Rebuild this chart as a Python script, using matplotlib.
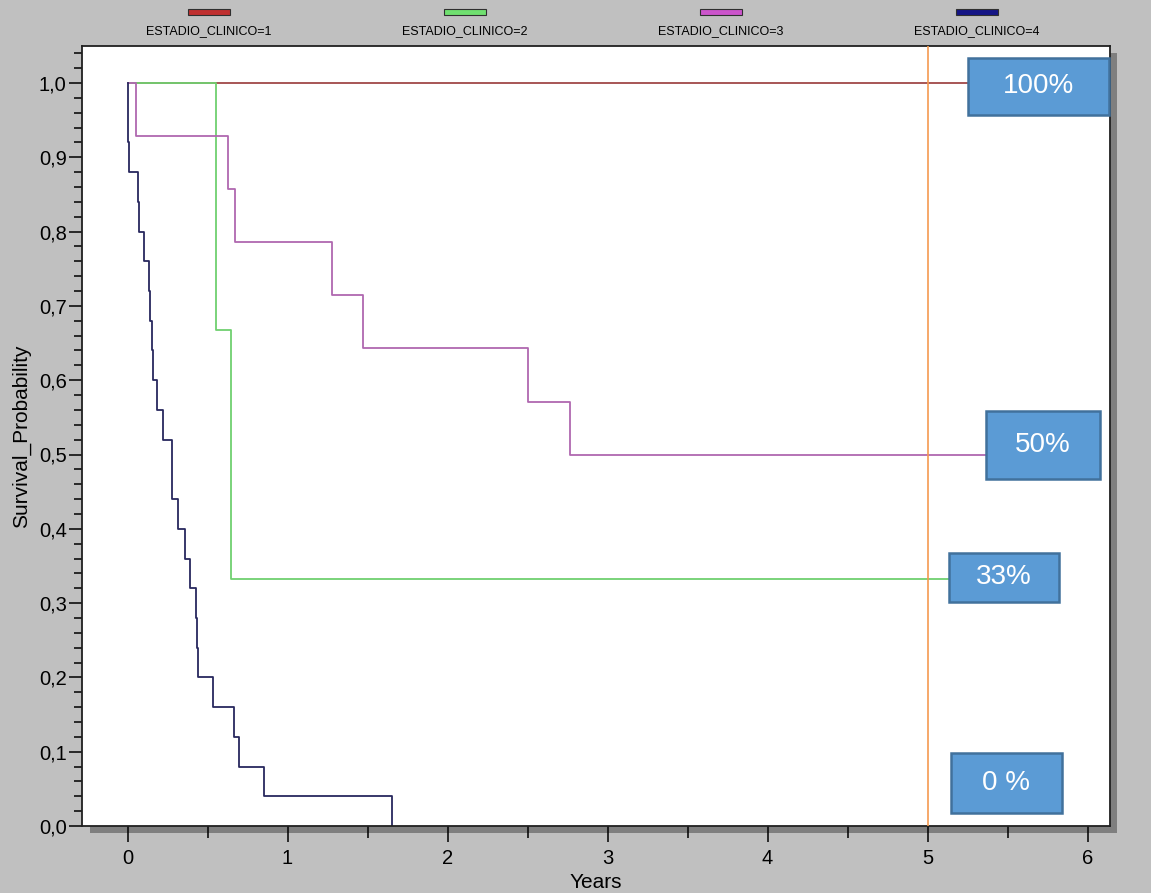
import matplotlib.pyplot as plt
from matplotlib.patches import Rectangle
import numpy as np

plt.rcParams['font.family'] = ['Liberation Sans', 'DejaVu Sans']

# Kaplan-Meier curves (time in years, survival)
t1 = [0.0, 5.5]
s1 = [1.0, 1.0]

t2 = [0.0, 0.555, 0.648, 5.5]
s2 = [1.0, 0.667, 0.333, 0.333]

t3 = [0.0, 0.051, 0.63, 0.674, 1.278, 1.47, 2.505, 2.764, 5.5]
s3 = [1.0, 0.929, 0.857, 0.786, 0.714, 0.643, 0.571, 0.5, 0.5]

t4 = [0.0, 0.0, 0.001, 0.011, 0.0675, 0.074, 0.103, 0.136, 0.1425, 0.153, 0.161,
      0.186, 0.224, 0.276, 0.276, 0.3175, 0.359, 0.39, 0.428, 0.4325, 0.439,
      0.5325, 0.666, 0.697, 0.855, 1.651]
s4 = [1.0, 0.96, 0.92, 0.88, 0.84, 0.80, 0.76, 0.72, 0.68, 0.64, 0.60,
      0.56, 0.52, 0.48, 0.44, 0.40, 0.36, 0.32, 0.28, 0.24, 0.20,
      0.16, 0.12, 0.08, 0.04, 0.0]

groups = ['ESTADIO_CLINICO=1', 'ESTADIO_CLINICO=2', 'ESTADIO_CLINICO=3', 'ESTADIO_CLINICO=4']
line_colors = ['#a04848', '#70d070', '#b068b0', '#28285e']
swatch_colors = ['#c03030', '#70e070', '#cc55cc', '#151585']

box_labels = ['100%', '50%', '33%', '0 %']
# box extents in data units: x0, x1, y0, y1
boxes = [(5.253, 6.134, 0.957, 1.034),
         (5.366, 6.078, 0.467, 0.5585),
         (5.134, 5.824, 0.301, 0.368),
         (5.147, 5.839, 0.018, 0.098)]

yticks = [0.0, 0.1, 0.2, 0.3, 0.4, 0.5, 0.6, 0.7, 0.8, 0.9, 1.0]
ytick_labels = ['0,0', '0,1', '0,2', '0,3', '0,4', '0,5', '0,6', '0,7', '0,8', '0,9', '1,0']
xticks = [0, 1, 2, 3, 4, 5, 6]
cutoff = 5.0

W, H = 1151, 893
fig = plt.figure(figsize=(W / 100, H / 100), dpi=100, facecolor='#c0c0c0')
ax = fig.add_axes([82 / W, (H - 826) / H, (1110 - 82) / W, (826 - 46) / H])

# drop shadow behind the plot frame
fig.add_artist(Rectangle((90 / W, (H - 833) / H), (1117 - 90) / W, (833 - 53) / H,
                         transform=fig.transFigure, facecolor='#7f7f7f',
                         edgecolor='none', zorder=-1))

for t, s, c in zip([t1, t2, t3, t4], [s1, s2, s3, s4], line_colors):
    ax.step(t, s, where='post', color=c, lw=1.3, zorder=2)

ax.axvline(cutoff, color='#f59a50', lw=1.2, zorder=3)

for (x0, x1, y0, y1), lab in zip(boxes, box_labels):
    ax.add_patch(Rectangle((x0, y0), x1 - x0, y1 - y0, facecolor='#5b9bd5',
                           edgecolor='#41719c', lw=1.8, zorder=5, clip_on=False))
    ax.text((x0 + x1) / 2, (y0 + y1) / 2, lab, color='white', fontsize=20,
            ha='center', va='center', zorder=6)

ax.set_xlim((82 - 127.5) / 160, (1110 - 127.5) / 160)
ax.set_ylim(0, (826 - 46) / 743)
ax.set_xticks(xticks)
ax.set_xticks(np.arange(0.5, 6.5, 1.0), minor=True)
ax.set_yticks(yticks)
ax.set_yticklabels(ytick_labels)
ax.set_yticks(np.arange(0.02, 1.05, 0.02), minor=True)

ax.tick_params(axis='x', which='major', length=11.5, width=1.1, pad=5, labelsize=14.5)
ax.tick_params(axis='x', which='minor', length=8.5, width=1.1)
ax.tick_params(axis='y', which='major', length=9.5, width=1.1, pad=1.5, labelsize=14.5)
ax.tick_params(axis='y', which='minor', length=6, width=1.1)
for sp in ax.spines.values():
    sp.set_linewidth(1.3)
    sp.set_color('#202020')

ax.set_xlabel('Years', fontsize=15, labelpad=4)
ax.set_ylabel('Survival_Probability', fontsize=15)
ax.yaxis.set_label_coords(-0.05, 0.5)

# legend along the top
for i, (g, c) in enumerate(zip(groups, swatch_colors)):
    cx = 209 + i * 256
    fig.add_artist(Rectangle(((cx - 21) / W, (H - 15) / H), 42 / W, 6 / H,
                             transform=fig.transFigure, facecolor=c,
                             edgecolor='#303030', lw=0.8))
    fig.text(cx / W, (H - 31) / H, g, fontsize=9, ha='center', va='center')

fig.savefig('out.png', dpi=100, facecolor=fig.get_facecolor())
